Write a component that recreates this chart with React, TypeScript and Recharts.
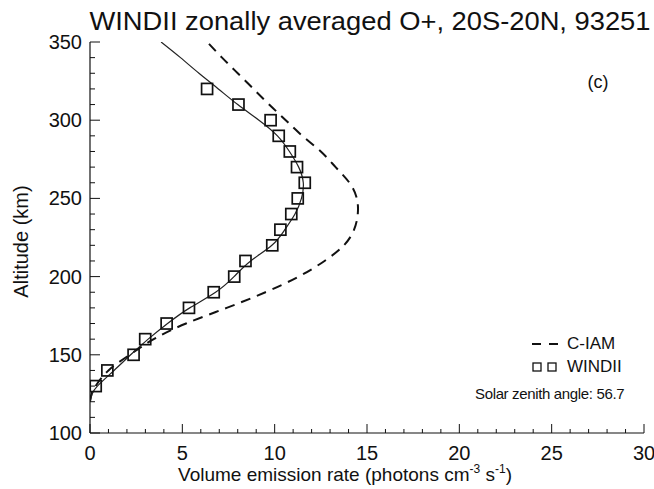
import React from 'react';
import { ComposedChart, Line, Scatter, XAxis, YAxis, Legend, Label } from 'recharts';

const FONT = '"Liberation Sans", Arial, Helvetica, sans-serif';

// fitted profile (solid line)
const fitAlt = [120, 125, 130, 140, 150, 160, 170, 180, 190, 200, 210, 220, 230, 240, 250, 260, 270, 280, 290, 300, 310, 320, 330, 340, 350];
const fitVer = [0, 0.12, 0.4, 1.3, 2.2, 3.15, 4.2, 5.4, 6.8, 7.8, 8.7, 9.85, 10.55, 11.1, 11.45, 11.55, 11.3, 10.8, 10.15, 9.15, 8.0, 6.95, 5.9, 4.9, 3.85];

// C-IAM model (dashed)
const ciamAlt = [120, 125, 130, 140, 150, 160, 170, 180, 190, 200, 210, 220, 230, 240, 250, 260, 270, 280, 290, 300, 310, 320, 330, 340, 350];
const ciamVer = [0, 0.08, 0.3, 1.0, 2.15, 3.45, 5.2, 7.4, 9.5, 11.3, 12.7, 13.75, 14.3, 14.5, 14.45, 14.05, 13.3, 12.5, 11.5, 10.6, 9.7, 8.85, 8.0, 7.15, 6.35];

// WINDII observations (squares)
const windiiAlt = [130, 140, 150, 160, 170, 180, 190, 200, 210, 220, 230, 240, 250, 260, 270, 280, 290, 300, 310, 320];
const windiiVer = [0.31, 0.94, 2.36, 2.99, 4.15, 5.36, 6.7, 7.81, 8.42, 9.87, 10.31, 10.9, 11.25, 11.63, 11.21, 10.82, 10.22, 9.78, 8.04, 6.34];

const xTicks = [0, 1, 2, 3, 4, 5, 6, 7, 8, 9, 10, 11, 12, 13, 14, 15, 16, 17, 18, 19, 20, 21, 22, 23, 24, 25, 26, 27, 28, 29, 30];
const yTicks = [100, 110, 120, 130, 140, 150, 160, 170, 180, 190, 200, 210, 220, 230, 240, 250, 260, 270, 280, 290, 300, 310, 320, 330, 340, 350];

const toRows = (alt: number[], ver: number[]) => alt.map((a, i) => ({ x: ver[i], alt: a }));
const fitData = toRows(fitAlt, fitVer);
const ciamData = toRows(ciamAlt, ciamVer);
const windiiData = toRows(windiiAlt, windiiVer);

const INK = '#111';

// ticks drawn pointing into the plot, like the IDL original
const BottomTick = ({ x, y, payload }: any) => {
  const major = payload.value % 5 === 0;
  return (
    <g>
      <line x1={x} y1={y} x2={x} y2={y - (major ? 9 : 4)} stroke={INK} strokeWidth={1} />
      {major && (
        <text x={x} y={y + 27} textAnchor="middle" fontSize={20} fontFamily={FONT} fill={INK}>
          {payload.value}
        </text>
      )}
    </g>
  );
};
const TopTick = ({ x, y, payload }: any) => {
  const major = payload.value % 5 === 0;
  return <line x1={x} y1={y} x2={x} y2={y + (major ? 9 : 4)} stroke={INK} strokeWidth={1} />;
};
const LeftTick = ({ x, y, payload }: any) => {
  const major = payload.value % 50 === 0;
  return (
    <g>
      <line x1={x} y1={y} x2={x + (major ? 10 : 5)} y2={y} stroke={INK} strokeWidth={1} />
      {major && (
        <text x={x - 8} y={y + 7} textAnchor="end" fontSize={20} fontFamily={FONT} fill={INK}>
          {payload.value}
        </text>
      )}
    </g>
  );
};
const RightTick = ({ x, y, payload }: any) => {
  const major = payload.value % 50 === 0;
  return <line x1={x} y1={y} x2={x - (major ? 10 : 5)} y2={y} stroke={INK} strokeWidth={1} />;
};

const XTitle = ({ viewBox }: any) => (
  <text
    x={viewBox.x + viewBox.width / 2 - 22}
    y={viewBox.y + 48}
    textAnchor="middle"
    fontSize={19}
    fontFamily={FONT}
    fill={INK}
  >
    Volume emission rate (photons cm
    <tspan fontSize={12} dy={-8}>-3</tspan>
    <tspan dy={8}> s</tspan>
    <tspan fontSize={12} dy={-8}>-1</tspan>
    <tspan dy={8}>)</tspan>
  </text>
);

const YTitle = ({ viewBox }: any) => {
  const cx = viewBox.x + 21;
  const cy = viewBox.y + viewBox.height / 2 + 4;
  return (
    <text
      x={cx}
      y={cy}
      transform={`rotate(-90, ${cx}, ${cy})`}
      textAnchor="middle"
      dominantBaseline="central"
      fontSize={20}
      fontFamily={FONT}
      fill={INK}
    >
      Altitude (km)
    </text>
  );
};

const LegendBox = () => (
  <div style={{ fontFamily: FONT, fontSize: 17, color: INK, lineHeight: '23px', width: 170 }}>
    <div style={{ display: 'flex', alignItems: 'center', paddingLeft: 62 }}>
      <svg width={26} height={10} style={{ marginRight: 9 }}>
        <line x1={0} y1={5} x2={26} y2={5} stroke={INK} strokeWidth={2} strokeDasharray="9 8" />
      </svg>
      <span>C-IAM</span>
    </div>
    <div style={{ display: 'flex', alignItems: 'center', paddingLeft: 62 }}>
      <svg width={26} height={10} style={{ marginRight: 9 }}>
        <rect x={1} y={1} width={8} height={8} fill="none" stroke={INK} strokeWidth={1.3} />
        <rect x={16} y={1} width={8} height={8} fill="none" stroke={INK} strokeWidth={1.3} />
      </svg>
      <span>WINDII</span>
    </div>
    <div style={{ marginTop: 4, paddingLeft: 5, fontSize: 15, letterSpacing: -0.35, whiteSpace: 'nowrap' }}>
      Solar zenith angle: 56.7
    </div>
  </div>
);

const Square = (p: any) => (
  <rect x={p.cx - 5.5} y={p.cy - 5.5} width={11} height={11} fill="none" stroke={INK} strokeWidth={1.7} />
);

export default function App() {
  return (
    <div style={{ position: 'absolute', left: 0, top: 0, width: 654, height: 489, background: '#fff' }}>
      <ComposedChart width={654} height={489} margin={{ top: 42, right: 10, bottom: 0, left: 0 }}>
        <XAxis
          dataKey="x"
          type="number"
          domain={[0, 30]}
          ticks={xTicks}
          interval={0}
          tickSize={0}
          tickMargin={0}
          tick={<BottomTick />}
          height={56}
          axisLine={{ stroke: INK, strokeWidth: 1.2 }}
          allowDataOverflow
        >
          <Label content={<XTitle />} />
        </XAxis>
        <XAxis
          xAxisId="top"
          orientation="top"
          type="number"
          domain={[0, 30]}
          ticks={xTicks}
          interval={0}
          tickSize={0}
          tickMargin={0}
          tick={<TopTick />}
          height={0}
          axisLine={{ stroke: INK, strokeWidth: 1.2 }}
          allowDataOverflow
        />
        <YAxis
          dataKey="alt"
          type="number"
          domain={[100, 350]}
          ticks={yTicks}
          interval={0}
          tickSize={0}
          tickMargin={0}
          tick={<LeftTick />}
          width={90}
          axisLine={{ stroke: INK, strokeWidth: 1.2 }}
          allowDataOverflow
        >
          <Label content={<YTitle />} />
        </YAxis>
        <YAxis
          yAxisId="right"
          orientation="right"
          type="number"
          domain={[100, 350]}
          ticks={yTicks}
          interval={0}
          tickSize={0}
          tickMargin={0}
          tick={<RightTick />}
          width={0}
          axisLine={{ stroke: INK, strokeWidth: 1.2 }}
          allowDataOverflow
        />
        <Line
          data={ciamData}
          dataKey="alt"
          name="C-IAM"
          type="natural"
          stroke={INK}
          strokeWidth={2}
          strokeDasharray="10 7"
          dot={false}
          activeDot={false}
          isAnimationActive={false}
        />
        <Line
          data={fitData}
          dataKey="alt"
          name="fit"
          type="natural"
          stroke="#222"
          strokeWidth={1.2}
          dot={false}
          activeDot={false}
          isAnimationActive={false}
        />
        <Scatter data={windiiData} dataKey="alt" name="WINDII" shape={<Square />} isAnimationActive={false} />
        <Legend
          layout="horizontal"
          verticalAlign="middle"
          align="center"
          content={<LegendBox />}
          wrapperStyle={{ left: 470, top: 332, width: 170 }}
        />
      </ComposedChart>
      <svg width={654} height={489} style={{ position: 'absolute', left: 0, top: 0, pointerEvents: 'none' }}>
        <text
          x={370}
          y={30}
          textAnchor="middle"
          fontSize={26}
          fontFamily={FONT}
          fill={INK}
          textLength={561}
          lengthAdjust="spacingAndGlyphs"
        >
          WINDII zonally averaged O+, 20S-20N, 93251
        </text>
        <text x={598} y={88} textAnchor="middle" fontSize={18} fontFamily={FONT} fill={INK}>
          (c)
        </text>
      </svg>
    </div>
  );
}
